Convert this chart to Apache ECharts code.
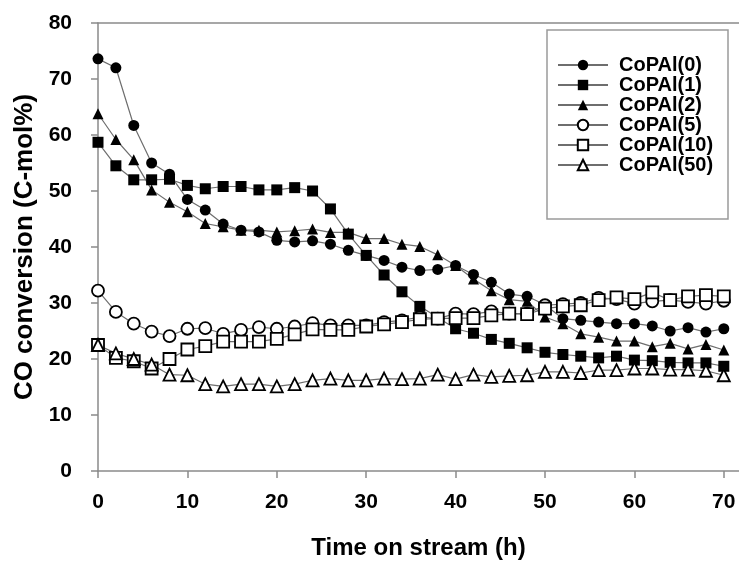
<!DOCTYPE html>
<html>
<head>
<meta charset="utf-8">
<script src="https://cdn.jsdelivr.net/npm/echarts@6/dist/echarts.min.js"></script>
<style>
    html, body { margin: 0; padding: 0; background: #fff; }
    #chart { width: 739px; height: 565px; }
</style>
</head>
<body>
<div id="chart"></div>
<script>
    // time on stream (h)
    var hours = [0, 2, 4, 6, 8, 10, 12, 14, 16, 18, 20, 22, 24, 26, 28, 30, 32, 34,
                 36, 38, 40, 42, 44, 46, 48, 50, 52, 54, 56, 58, 60, 62, 64, 66, 68, 70];

    var copal0 = [73.6, 72.0, 61.7, 55.0, 53.0, 48.5, 46.6, 44.1, 43.0, 42.7, 41.2, 40.9, 41.1, 40.5, 39.4, 38.5, 37.6, 36.4,
                  35.8, 36.0, 36.7, 35.1, 33.7, 31.6, 31.2, 29.7, 27.2, 26.9, 26.6, 26.3, 26.3, 25.9, 25.0, 25.6, 24.8, 25.4];
    var copal1 = [58.7, 54.5, 52.0, 52.0, 52.1, 51.0, 50.4, 50.8, 50.8, 50.2, 50.2, 50.6, 50.0, 46.8, 42.3, 38.5, 35.0, 32.0,
                  29.4, null, 25.4, 24.6, 23.5, 22.8, 22.0, 21.2, 20.8, 20.5, 20.2, 20.5, 19.8, 19.7, 19.4, 19.3, 19.3, 18.7];
    var copal2 = [63.8, 59.2, 55.6, 50.2, 48.0, 46.3, 44.2, 43.6, 43.0, 43.0, 42.7, 42.9, 43.2, 42.6, 42.6, 41.5, 41.5, 40.5,
                  40.1, 38.6, 36.7, 34.3, 32.2, 30.6, 30.3, 27.5, 26.3, 24.5, 23.9, 23.2, 23.2, 22.2, 22.8, 21.8, 22.6, 21.6];
    var copal5 = [32.2, 28.4, 26.3, 24.9, 24.1, 25.4, 25.5, 24.5, 25.2, 25.7, 25.4, 25.8, 26.4, 26.0, 26.0, 26.0, 26.6, 26.9,
                  27.5, 27.2, 28.1, 28.0, 28.5, 28.1, 28.1, 29.6, 29.8, 30.0, 30.9, 30.7, 29.9, 30.3, 30.5, 30.2, 29.9, 30.4];
    var copal10 = [22.5, 20.2, 19.6, 18.3, 20.0, 21.7, 22.3, 23.1, 23.1, 23.1, 23.6, 24.4, 25.3, 25.2, 25.2, 25.8, 26.2, 26.6,
                   27.1, 27.2, 27.3, 27.3, 27.8, 28.1, 28.0, 29.0, 29.4, 29.6, 30.5, 31.0, 30.7, 31.9, 30.5, 31.2, 31.4, 31.2];
    var copal50 = [22.5, 21.0, 20.0, 19.0, 17.2, 17.1, 15.5, 15.1, 15.5, 15.5, 15.1, 15.5, 16.2, 16.5, 16.2, 16.2, 16.5, 16.4,
                   16.5, 17.2, 16.4, 17.2, 16.8, 17.0, 17.1, 17.7, 17.7, 17.5, 18.0, 18.0, 18.3, 18.3, 18.1, 18.1, 17.9, 17.1];

    var names = ['CoPAl(0)', 'CoPAl(1)', 'CoPAl(2)', 'CoPAl(5)', 'CoPAl(10)', 'CoPAl(50)'];
    var xTicks = [0, 10, 20, 30, 40, 50, 60, 70];

    var font = '"Liberation Sans", Arial, sans-serif';

    function pairs(vals) {
        return hours.map(function (h, i) { return [h, vals[i]]; });
    }

    function makeSeries(name, vals, symbol, hollow) {
        return {
            name: name,
            type: 'line',
            data: pairs(vals),
            connectNulls: true,
            symbol: symbol,
            symbolSize: hollow ? 12 : 11,
            lineStyle: { color: '#6e6e6e', width: 1.2 },
            itemStyle: hollow
                ? { color: '#fff', borderColor: '#000', borderWidth: 1.8 }
                : { color: '#000', borderColor: '#000', borderWidth: 0 },
            emphasis: { disabled: true }
        };
    }

    var chart = echarts.init(document.getElementById('chart'));
    chart.setOption({
        animation: false,
        backgroundColor: '#fff',
        grid: { left: 98, right: 0, top: 23, bottom: 92, containLabel: false },
        graphic: [{
            type: 'rect',
            shape: { x: 547, y: 30, width: 181, height: 189 },
            style: { fill: 'none', stroke: '#9a9a9a', lineWidth: 1.5 },
            z: 1
        }],
        legend: {
            orient: 'vertical',
            left: 557,
            top: 55,
            itemWidth: 50,
            itemHeight: 13,
            itemGap: 0,
            padding: 0,
            textStyle: { fontFamily: font, fontWeight: 'bold', fontSize: 20, color: '#000',
                         lineHeight: 19.3, padding: [0, 0, 0, 6] },
            data: names
        },
        xAxis: [{
            type: 'value',
            min: 0,
            max: 71.7,
            name: 'Time on stream (h)',
            nameLocation: 'middle',
            nameGap: 65,
            nameTextStyle: { fontFamily: font, fontWeight: 'bold', fontSize: 24, color: '#000' },
            axisLine: { show: true, lineStyle: { color: '#8a8a8a', width: 1.5 } },
            axisTick: { show: true, inside: false, length: 7, customValues: xTicks,
                        lineStyle: { color: '#8a8a8a', width: 1.5 } },
            axisLabel: { customValues: xTicks, margin: 21,
                         fontFamily: font, fontWeight: 'bold', fontSize: 21, color: '#000' },
            splitLine: { show: false }
        }, {
            type: 'value',
            position: 'top',
            min: 0,
            max: 71.7,
            axisLine: { show: true, lineStyle: { color: '#8a8a8a', width: 1.5 } },
            axisTick: { show: false },
            axisLabel: { show: false },
            splitLine: { show: false }
        }],
        yAxis: {
            type: 'value',
            min: 0,
            max: 80,
            interval: 10,
            name: 'CO conversion (C-mol%)',
            nameLocation: 'middle',
            nameGap: 60,
            nameTextStyle: { fontFamily: font, fontWeight: 'bold', fontSize: 26, color: '#000' },
            axisLine: { show: true, lineStyle: { color: '#8a8a8a', width: 1.5 } },
            axisTick: { show: true, inside: false, length: 7, lineStyle: { color: '#8a8a8a', width: 1.5 } },
            axisLabel: { margin: 26, fontFamily: font, fontWeight: 'bold', fontSize: 21, color: '#000' },
            splitLine: { show: false }
        },
        series: [
            makeSeries(names[0], copal0, 'circle', false),
            makeSeries(names[1], copal1, 'rect', false),
            makeSeries(names[2], copal2, 'triangle', false),
            makeSeries(names[3], copal5, 'circle', true),
            makeSeries(names[4], copal10, 'rect', true),
            makeSeries(names[5], copal50, 'triangle', true)
        ]
    });
</script>
</body>
</html>
